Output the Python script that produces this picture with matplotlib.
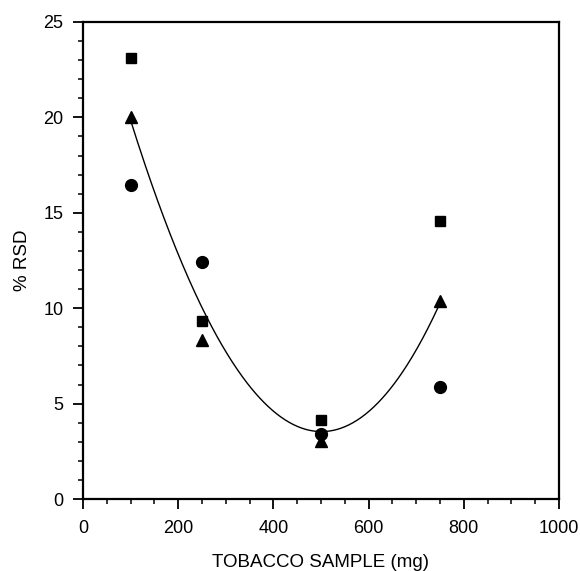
import numpy as np
import matplotlib
matplotlib.use("Agg")
import matplotlib.pyplot as plt
from matplotlib.ticker import MultipleLocator

plt.rcParams['font.family'] = ['Liberation Sans', 'DejaVu Sans']

# tobacco sample mass (mg) and %RSD for the three replicate series
sample_mg = [100, 250, 500, 750]
rsd_square = [23.1, 9.35, 4.15, 14.55]
rsd_triangle = [20.0, 8.35, 3.05, 10.4]
rsd_circle = [16.45, 12.4, 3.4, 5.85]

fig = plt.figure(figsize=(5.8, 5.71), dpi=100)
ax = fig.add_axes([83 / 580, 1 - 499 / 571, 476 / 580, 477 / 571])

ax.plot(sample_mg, rsd_square, 's', color='black', markersize=7.5, zorder=3)
ax.plot(sample_mg, rsd_triangle, '^', color='black', markersize=8.5, zorder=3)
ax.plot(sample_mg, rsd_circle, 'o', color='black', markersize=8.5, zorder=3)

# cubic fit through all points
xs = np.array(sample_mg * 3, dtype=float)
ys = np.array(rsd_square + rsd_triangle + rsd_circle)
coef = np.polyfit(xs, ys, 3)
xf = np.linspace(min(sample_mg), max(sample_mg), 300)
ax.plot(xf, np.polyval(coef, xf), '-', color='black', linewidth=1.0, zorder=2)

ax.set_xlim(0, 1000)
ax.set_ylim(0, 25)
ax.xaxis.set_major_locator(MultipleLocator(200))
ax.xaxis.set_minor_locator(MultipleLocator(50))
ax.yaxis.set_major_locator(MultipleLocator(5))
ax.yaxis.set_minor_locator(MultipleLocator(1))
ax.tick_params(which='major', direction='out', length=7, width=1.3, labelsize=13)
ax.tick_params(axis='y', which='major', pad=7)
ax.tick_params(axis='x', which='major', pad=8)
ax.tick_params(which='minor', direction='out', length=3.5, width=1.1)
for s in ax.spines.values():
    s.set_linewidth(1.6)

ax.set_xlabel('TOBACCO SAMPLE (mg)', fontsize=13.5, labelpad=12.5)
ax.set_ylabel('% RSD', fontsize=13.5, labelpad=9)

fig.savefig('out.png', dpi=100)
